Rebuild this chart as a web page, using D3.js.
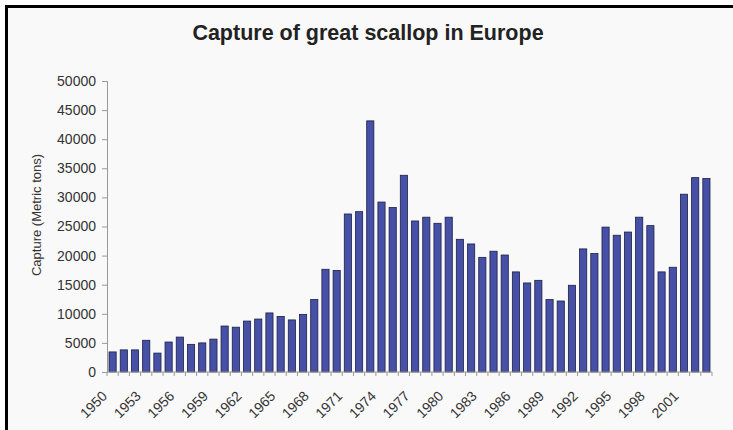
<!DOCTYPE html>
<html>
<head>
<meta charset="utf-8">
<script src="https://d3js.org/d3.v7.min.js"></script>
<style>
  body { margin: 0; background: #ffffff; }
  svg { display: block; font-family: "Liberation Sans", Arial, sans-serif; }
</style>
</head>
<body>
<script>
// years shown on the category axis
var years = d3.range(1950, 2004);

// capture in metric tons
var capture = [
  3450, 3800, 3800, 5450, 3250, 5150, 6000, 4750, 5000, 5650,
  7900, 7700, 8750, 9100, 10150, 9550, 8950, 9900, 12450, 17650,
  17450, 27150, 27550, 43150, 29200, 28250, 33800, 25950, 26600, 25550,
  26600, 22800, 22000, 19700, 20750, 20100, 17200, 15300, 15750, 12450,
  12200, 14900, 21150, 20350, 24900, 23500, 24050, 26600, 25150, 17200,
  18000, 30550, 33400, 33250
];

var yTicks = d3.range(0, 50001, 5000);

var W = 733, H = 430;
var plotL = 107, plotR = 712, plotT = 81, plotB = 372;

var svg = d3.select("body").append("svg")
  .attr("width", W)
  .attr("height", H);

svg.append("rect")
  .attr("width", W).attr("height", H)
  .attr("fill", "#f9f9f9");

// black frame on top and left edges, like the scanned original
svg.append("rect").attr("x", 0).attr("y", 0).attr("width", W).attr("height", 8).attr("fill", "#fff");
svg.append("rect").attr("x", 0).attr("y", 0).attr("width", 5).attr("height", H).attr("fill", "#fff");
svg.append("rect").attr("x", 5).attr("y", 5).attr("width", W - 5).attr("height", 3).attr("fill", "#000");
svg.append("rect").attr("x", 5).attr("y", 5).attr("width", 3).attr("height", H - 5).attr("fill", "#000");

var x = d3.scaleBand()
  .domain(years)
  .range([plotL, plotR])
  .paddingInner(0.36)
  .paddingOuter(0.18);

var y = d3.scaleLinear()
  .domain([0, 50000])
  .range([plotB, plotT]);

// title
svg.append("text")
  .attr("x", 368)
  .attr("y", 40)
  .attr("text-anchor", "middle")
  .attr("font-size", 21.5)
  .attr("font-weight", "bold")
  .attr("fill", "#222")
  .text("Capture of great scallop in Europe");

// y axis
var yAxis = svg.append("g")
  .attr("transform", "translate(" + plotL + ",0)")
  .call(d3.axisLeft(y).tickValues(yTicks).tickSize(5).tickPadding(6).tickFormat(d3.format("d")));
yAxis.selectAll("path, line").attr("stroke", "#999");
yAxis.selectAll("text").attr("font-size", 14).attr("fill", "#333")
  .attr("font-family", "'Liberation Sans', Arial, sans-serif");

svg.append("text")
  .attr("transform", "translate(41," + 215 + ") rotate(-90)")
  .attr("text-anchor", "middle")
  .attr("font-size", 13)
  .attr("fill", "#333")
  .text("Capture (Metric tons)");

// bars
svg.append("g").selectAll("rect")
  .data(capture)
  .enter().append("rect")
  .attr("x", function(d, i) { return x(years[i]); })
  .attr("y", function(d) { return y(d); })
  .attr("width", x.bandwidth())
  .attr("height", function(d) { return plotB - y(d); })
  .attr("fill", "#4650a6")
  .attr("stroke", "#1c1f45")
  .attr("stroke-width", 0.8);

// x axis line and ticks between categories
svg.append("line")
  .attr("x1", plotL).attr("x2", plotR)
  .attr("y1", plotB).attr("y2", plotB)
  .attr("stroke", "#999");

var step = x.step();
svg.append("g").selectAll("line")
  .data(d3.range(0, years.length + 1))
  .enter().append("line")
  .attr("x1", function(i) { return plotL + i * step; })
  .attr("x2", function(i) { return plotL + i * step; })
  .attr("y1", plotB)
  .attr("y2", plotB + 4)
  .attr("stroke", "#999");

// rotated year labels, every third year
svg.append("g").selectAll("text")
  .data(years.filter(function(d) { return (d - 1950) % 3 === 0; }))
  .enter().append("text")
  .attr("transform", function(d) {
    return "translate(" + (x(d) + x.bandwidth() / 2 - 4.5) + "," + (plotB + 25) + ") rotate(-45)";
  })
  .attr("text-anchor", "end")
  .attr("font-size", 14)
  .attr("fill", "#333")
  .text(function(d) { return d; });
</script>
</body>
</html>
